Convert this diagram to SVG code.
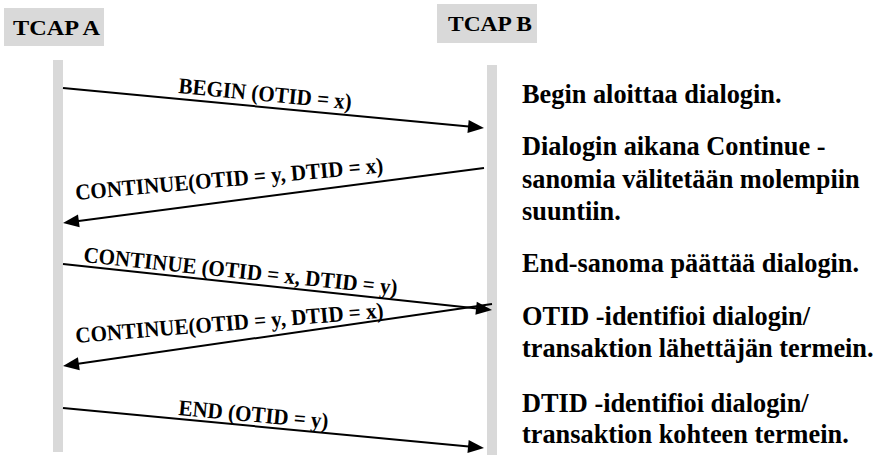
<svg xmlns="http://www.w3.org/2000/svg" width="879" height="457" viewBox="0 0 879 457">
<style>
.box{fill:#d9d9d9;}
.life{fill:#d9d9d9;}
.hdr{font-family:"Liberation Serif","Times New Roman",serif;font-weight:bold;font-size:22px;fill:#000;}
.lbl{font-family:"Liberation Serif","Times New Roman",serif;font-weight:bold;font-size:22.5px;fill:#000;}
.note{font-family:"Liberation Serif","Times New Roman",serif;font-weight:bold;font-size:27px;fill:#000;}
.msg{stroke:#000;stroke-width:2;fill:none;marker-end:url(#ah);}
</style>
<defs>
<marker id="ah" markerUnits="userSpaceOnUse" markerWidth="16" markerHeight="13" refX="6" refY="6.5" orient="auto" overflow="visible">
<path d="M0,0 L16,6.5 L0,13 z" fill="#000"/>
</marker>
</defs>
<rect width="879" height="457" fill="#fff"/>
<g id="tcap-a">
<rect class="box" x="4" y="8" width="100" height="38"/>
<text class="hdr" x="13" y="35" textLength="87" lengthAdjust="spacingAndGlyphs">TCAP A</text>
<rect class="life" x="53" y="60" width="10" height="392"/>
</g>
<g id="tcap-b">
<rect class="box" x="437" y="4" width="100" height="39"/>
<text class="hdr" x="448" y="31" textLength="84" lengthAdjust="spacingAndGlyphs">TCAP B</text>
<rect class="life" x="487" y="65" width="10" height="390"/>
</g>
<g id="connectors">
<path class="msg" d="M63,88 L474.05,127.05"/>
<text class="lbl" transform="translate(178,93) rotate(5.4) scale(0.935,1)">BEGIN (OTID = x)</text>
<path class="msg" d="M484,168 L72.9,221.7"/>
<text class="lbl" transform="translate(76,200) rotate(-5.1) scale(0.935,1)">CONTINUE(OTID = y, DTID = x)</text>
<path class="msg" d="M63,264 L482.06,308.93"/>
<text class="lbl" transform="translate(83,262) rotate(6) scale(0.935,1)">CONTINUE (OTID = x, DTID = y)</text>
<path class="msg" d="M492,304 L72.9,364.57"/>
<text class="lbl" transform="translate(76,343) rotate(-4.7) scale(0.935,1)">CONTINUE(OTID = y, DTID = x)</text>
<path class="msg" d="M63,408 L474.05,447.05"/>
<text class="lbl" transform="translate(178,415) rotate(5.2) scale(0.935,1)">END (OTID = y)</text>
</g>
<g id="notes">
<text class="note" transform="translate(522,103) scale(0.975,1)">Begin aloittaa dialogin.</text>
<text class="note" transform="translate(522,155) scale(0.975,1)">Dialogin aikana Continue -</text>
<text class="note" transform="translate(522,188) scale(0.975,1)">sanomia välitetään molempiin</text>
<text class="note" transform="translate(522,220) scale(0.975,1)">suuntiin.</text>
<text class="note" transform="translate(522,272) scale(0.975,1)">End-sanoma päättää dialogin.</text>
<text class="note" transform="translate(522,325) scale(0.975,1)">OTID -identifioi dialogin/</text>
<text class="note" transform="translate(522,357) scale(0.975,1)">transaktion lähettäjän termein.</text>
<text class="note" transform="translate(522,412) scale(0.975,1)">DTID -identifioi dialogin/</text>
<text class="note" transform="translate(522,443) scale(0.975,1)">transaktion kohteen termein.</text>
</g>
</svg>
